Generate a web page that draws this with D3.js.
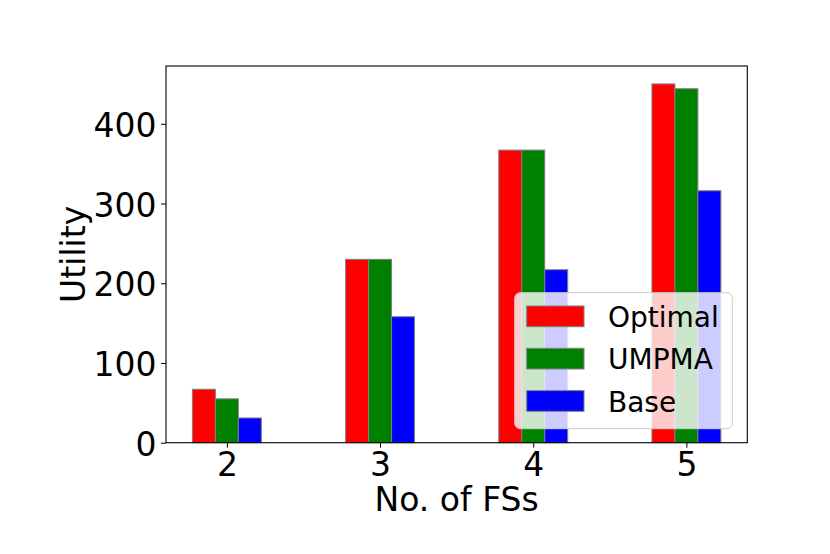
<!DOCTYPE html>
<html>
<head>
<meta charset="utf-8">
<script src="https://cdn.jsdelivr.net/npm/d3@7"></script>
<style>
    body { margin: 0; background: #fff; }
    text { font-family: "DejaVu Sans", sans-serif; fill: #000; }
</style>
</head>
<body>
<div id="chart"></div>
<script>
// values
var groups = [2, 3, 4, 5]
var seriesNames = ["Optimal", "UMPMA", "Base"]
var seriesColors = ["#ff0000", "#008000", "#0000ff"]
var optimal = [67, 230, 367, 450]
var umpma = [55, 230, 367, 444]
var base = [31, 158, 217, 316]
var yTicks = [0, 100, 200, 300, 400]

var series = [optimal, umpma, base]
var barW = 0.15

var W = 830, H = 554
// plot box (note: "top" is reserved on window, so keep these in an object)
var box = {left: 166, right: 747.3, top: 66, bottom: 442.7}

var svg = d3.select("#chart").append("svg")
    .attr("width", W)
    .attr("height", H)

// x range padded like matplotlib (5% of data span)
var lo = groups[0] - 1.5 * barW, hi = groups[groups.length - 1] + 1.5 * barW
var pad = (hi - lo) * 0.05
var x = d3.scaleLinear().domain([lo - pad, hi + pad]).range([box.left, box.right])
var ymax = d3.max(series, function (s) { return d3.max(s) })
var y = d3.scaleLinear().domain([0, ymax * 1.05]).range([box.bottom, box.top])

// bars
series.forEach(function (vals, si) {
    svg.append("g").selectAll("rect")
        .data(vals)
        .enter().append("rect")
        .attr("x", function (d, i) { return x(groups[i] + (si - 1) * barW - barW / 2) })
        .attr("width", x(barW) - x(0))
        .attr("y", function (d) { return y(d) })
        .attr("height", function (d) { return y(0) - y(d) })
        .attr("fill", seriesColors[si])
        .attr("stroke", "#808080")
        .attr("stroke-width", 1)
})

// axes
var xAxis = svg.append("g")
    .attr("transform", "translate(0," + box.bottom + ")")
    .call(d3.axisBottom(x).tickValues(groups).tickFormat(d3.format("d")).tickSize(5).tickSizeOuter(0))
xAxis.select(".domain").remove()
xAxis.selectAll("text").attr("font-size", "33px").attr("y", 0).attr("dy", "33px")

var yAxis = svg.append("g")
    .attr("transform", "translate(" + box.left + ",0)")
    .call(d3.axisLeft(y).tickValues(yTicks).tickSize(5).tickSizeOuter(0))
yAxis.select(".domain").remove()
yAxis.selectAll("text").attr("font-size", "33px").attr("x", -9.5).attr("dy", "12.5px")

svg.append("rect")
    .attr("x", box.left).attr("y", box.top)
    .attr("width", box.right - box.left).attr("height", box.bottom - box.top)
    .attr("fill", "none").attr("stroke", "#000").attr("stroke-width", 1.1)

// axis labels
svg.append("text")
    .attr("x", (box.left + box.right) / 2)
    .attr("y", 511)
    .attr("text-anchor", "middle")
    .attr("font-size", "33px")
    .text("No. of FSs")

svg.append("text")
    .attr("transform", "translate(85," + (box.top + box.bottom) / 2 + ") rotate(-90)")
    .attr("text-anchor", "middle")
    .attr("font-size", "33px")
    .text("Utility")

// legend
var legend = svg.append("g").attr("transform", "translate(514.7,292.7)")
legend.append("rect")
    .attr("width", 217.6).attr("height", 136)
    .attr("rx", 5.5).attr("ry", 5.5)
    .attr("fill", "rgba(255,255,255,0.8)")
    .attr("stroke", "#cccccc").attr("stroke-width", 1)

var rows = legend.selectAll(".row")
    .data(seriesNames)
    .enter().append("g")
    .attr("class", "row")
    .attr("transform", function (d, i) { return "translate(0," + (13.3 + i * 42.3) + ")" })
rows.append("rect")
    .attr("x", 12).attr("width", 57.3).attr("height", 20.7)
    .attr("fill", function (d, i) { return seriesColors[i] })
    .attr("stroke", "#808080").attr("stroke-width", 1)
rows.append("text")
    .attr("x", 93.3).attr("y", 21)
    .attr("font-size", "28px")
    .text(function (d) { return d })
</script>
</body>
</html>
